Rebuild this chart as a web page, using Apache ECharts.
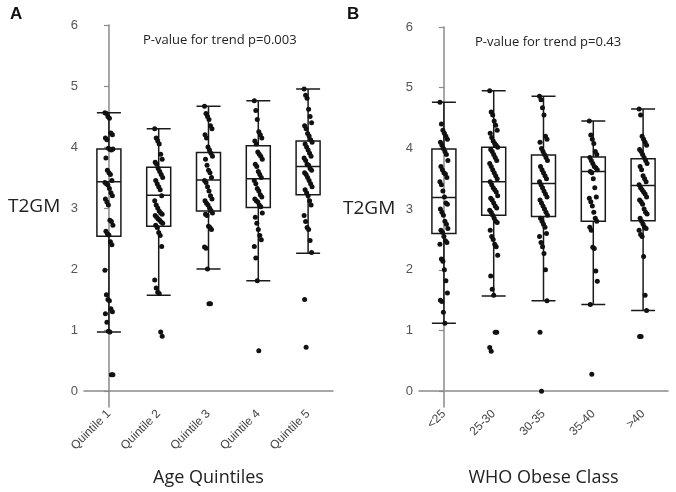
<!DOCTYPE html>
<html>
<head>
<meta charset="utf-8">
<title>T2GM</title>
<script src="https://cdn.jsdelivr.net/npm/echarts@6/dist/echarts.min.js"></script>
<style>
  html, body { margin: 0; padding: 0; background: #fff; }
  #main { width: 676px; height: 492px; }
</style>
</head>
<body>
<div id="main"></div>
<script type="text/javascript">
// categories
var ageCats = ['Quintile 1', 'Quintile 2', 'Quintile 3', 'Quintile 4', 'Quintile 5'];
var whoCats = ['<25', '25-30', '30-35', '35-40', '>40'];
var yTicks = [0, 1, 2, 3, 4, 5, 6];

// box stats [min, q1, median, q3, max]
var ageBoxes = [
  [0.97, 2.54, 3.43, 3.97, 4.56],
  [1.57, 2.70, 3.21, 3.67, 4.30],
  [2.00, 2.95, 3.46, 3.91, 4.67],
  [1.81, 3.01, 3.48, 4.02, 4.76],
  [2.26, 3.22, 3.68, 4.10, 4.95]
];
var whoBoxes = [
  [1.12, 2.60, 3.19, 3.99, 4.76],
  [1.57, 2.90, 3.45, 4.02, 4.95],
  [1.49, 2.88, 3.42, 3.89, 4.86],
  [1.43, 2.80, 3.62, 3.86, 4.45],
  [1.33, 2.81, 3.39, 3.83, 4.65]
];

// individual T2GM values per group
var age1 = [4.56, 4.55, 4.50, 4.47, 4.23, 4.20, 4.15, 4.12, 3.98, 3.96, 3.95, 3.97, 3.82, 3.62, 3.58, 3.55, 3.45, 3.42, 3.40, 3.38, 3.32, 3.25, 3.20, 3.15, 3.10, 3.05, 2.80, 2.78, 2.72, 2.62, 2.58, 2.56, 2.45, 2.40, 1.98, 1.58, 1.50, 1.48, 1.35, 1.30, 1.27, 1.13, 0.98, 0.97, 0.27, 0.27];
var age2 = [4.30, 4.15, 4.10, 4.05, 3.88, 3.80, 3.75, 3.72, 3.65, 3.60, 3.55, 3.50, 3.45, 3.40, 3.35, 3.30, 3.20, 3.12, 3.05, 3.00, 2.95, 2.92, 2.90, 2.88, 2.85, 2.82, 2.80, 2.77, 2.75, 2.72, 2.68, 2.60, 2.55, 2.37, 1.82, 1.69, 1.62, 1.60, 0.97, 0.90];
var age3 = [4.67, 4.55, 4.50, 4.45, 4.35, 4.30, 4.20, 4.15, 4.00, 3.95, 3.90, 3.85, 3.80, 3.70, 3.62, 3.58, 3.50, 3.45, 3.42, 3.35, 3.28, 3.20, 3.15, 3.12, 3.08, 3.05, 3.00, 2.96, 2.92, 2.90, 2.88, 2.70, 2.68, 2.65, 2.36, 2.34, 2.00, 1.43, 1.43];
var age4 = [4.76, 4.60, 4.45, 4.25, 4.20, 4.15, 4.10, 4.05, 3.92, 3.88, 3.85, 3.80, 3.72, 3.68, 3.60, 3.55, 3.50, 3.45, 3.40, 3.32, 3.28, 3.22, 3.18, 3.15, 3.12, 3.10, 3.05, 3.02, 2.92, 2.85, 2.75, 2.65, 2.55, 2.48, 2.37, 2.18, 1.81, 0.66];
var age5 = [4.95, 4.85, 4.80, 4.62, 4.50, 4.40, 4.35, 4.30, 4.22, 4.18, 4.12, 4.08, 4.05, 4.00, 3.95, 3.90, 3.85, 3.82, 3.78, 3.72, 3.70, 3.65, 3.62, 3.58, 3.55, 3.50, 3.45, 3.40, 3.35, 3.30, 3.25, 3.20, 3.12, 3.05, 2.88, 2.78, 2.68, 2.65, 2.47, 2.27, 1.50, 0.72];

var who1 = [4.76, 4.40, 4.30, 4.25, 4.20, 4.15, 4.10, 4.05, 4.00, 3.95, 3.90, 3.80, 3.70, 3.65, 3.60, 3.58, 3.52, 3.45, 3.40, 3.30, 3.20, 3.10, 3.08, 3.00, 2.95, 2.90, 2.80, 2.75, 2.68, 2.65, 2.62, 2.55, 2.48, 2.45, 2.42, 2.18, 2.14, 2.00, 1.82, 1.62, 1.50, 1.48, 1.30, 1.12];
var who2 = [4.95, 4.60, 4.55, 4.45, 4.38, 4.30, 4.25, 4.18, 4.12, 4.08, 4.05, 4.02, 3.98, 3.95, 3.90, 3.85, 3.80, 3.75, 3.70, 3.65, 3.60, 3.55, 3.50, 3.45, 3.40, 3.35, 3.32, 3.28, 3.22, 3.18, 3.15, 3.10, 3.05, 3.02, 2.98, 2.95, 2.90, 2.85, 2.80, 2.78, 2.65, 2.55, 2.50, 2.42, 2.38, 2.24, 1.90, 1.68, 1.58, 0.97, 0.97, 0.72, 0.66];
var who3 = [4.86, 4.80, 4.67, 4.55, 4.20, 4.15, 4.10, 4.00, 3.95, 3.90, 3.85, 3.80, 3.70, 3.65, 3.60, 3.55, 3.50, 3.45, 3.40, 3.35, 3.30, 3.25, 3.20, 3.15, 3.10, 3.05, 3.00, 2.95, 2.90, 2.85, 2.80, 2.75, 2.70, 2.60, 2.55, 2.45, 2.38, 2.27, 2.00, 1.49, 0.97, 0.00];
var who4 = [4.45, 4.22, 4.15, 4.08, 3.95, 3.90, 3.85, 3.80, 3.75, 3.70, 3.68, 3.65, 3.62, 3.60, 3.50, 3.35, 3.20, 3.18, 3.12, 3.05, 2.95, 2.85, 2.80, 2.70, 2.65, 2.37, 2.35, 1.98, 1.81, 1.43, 0.28];
var who5 = [4.65, 4.55, 4.20, 4.15, 4.10, 4.05, 3.98, 3.95, 3.90, 3.85, 3.80, 3.75, 3.70, 3.65, 3.55, 3.50, 3.45, 3.40, 3.35, 3.32, 3.28, 3.25, 3.20, 3.15, 3.12, 3.08, 3.00, 2.95, 2.92, 2.85, 2.80, 2.75, 2.70, 2.68, 2.65, 2.58, 2.55, 2.22, 1.58, 1.33, 0.90, 0.90];

var ageGroups = [age1, age2, age3, age4, age5];
var whoGroups = [who1, who2, who3, who4, who5];

// small fixed spread so the dots sit side by side like the original
function spread(i) {
  return (((i * 37) % 17) / 16 - 0.5) * 0.16;
}
function dots(groups) {
  var out = [];
  groups.forEach(function (g, c) {
    g.forEach(function (v, i) {
      out.push([c + spread(i), v]);
    });
  });
  return out;
}

var axisGray = '#8a8a8a';
var labelFont = 'Liberation Sans';
var textFont = 'Open Sans';

function yAxisFor(grid) {
  return {
    type: 'value', gridIndex: grid, min: -0.26, max: 6,
    axisLine: { show: true, lineStyle: { color: axisGray, width: 1.5 } },
    axisTick: { show: true, length: 5, lineStyle: { color: axisGray, width: 1.2 }, customValues: yTicks },
    axisLabel: { color: '#555', fontSize: 13, fontFamily: labelFont, margin: 6, customValues: yTicks },
    splitLine: { show: false }
  };
}
function catAxisFor(grid, cats, name) {
  return {
    type: 'category', gridIndex: grid, data: cats,
    axisLine: { show: true, lineStyle: { color: axisGray, width: 1.5 } },
    axisTick: { show: false },
    axisLabel: { rotate: 45, interval: 0, color: '#444', fontSize: 12, fontFamily: labelFont, margin: 5 },
    name: name, nameLocation: 'middle', nameGap: 62,
    nameTextStyle: { fontSize: 18, color: '#222', fontFamily: textFont }
  };
}
function dotAxisFor(grid) {
  return { type: 'value', gridIndex: grid, min: -0.5, max: 4.5, show: false };
}
function boxSeries(axisIdx, data) {
  return {
    type: 'boxplot', xAxisIndex: axisIdx, yAxisIndex: axisIdx === 0 ? 0 : 1,
    boxWidth: [24, 24], data: data, silent: true,
    itemStyle: { color: 'rgba(0,0,0,0)', borderColor: '#1a1a1a', borderWidth: 1.5 }
  };
}
function dotSeries(axisIdx, yIdx, groups) {
  return {
    type: 'scatter', xAxisIndex: axisIdx, yAxisIndex: yIdx,
    data: dots(groups), symbolSize: 5, silent: true, z: 5,
    itemStyle: { color: '#111', opacity: 1 }
  };
}

var myChart = echarts.init(document.getElementById('main'));
myChart.setOption({
  animation: false,
  grid: [
    { left: 84, right: 343, top: 25, bottom: 79 },
    { left: 419, right: 8, top: 27, bottom: 77 }
  ],
  xAxis: [
    catAxisFor(0, ageCats, 'Age Quintiles'),
    catAxisFor(1, whoCats, 'WHO Obese Class'),
    dotAxisFor(0),
    dotAxisFor(1)
  ],
  yAxis: [yAxisFor(0), yAxisFor(1)],
  series: [
    boxSeries(0, ageBoxes),
    boxSeries(1, whoBoxes),
    dotSeries(2, 0, ageGroups),
    dotSeries(3, 1, whoGroups)
  ],
  graphic: [
    { type: 'text', left: 10, top: 6, style: { text: 'A', font: 'bold 17px Liberation Sans', fill: '#111' } },
    { type: 'text', left: 347, top: 6, style: { text: 'B', font: 'bold 17px Liberation Sans', fill: '#111' } },
    { type: 'text', left: 8, top: 197, style: { text: 'T2GM', font: '19px Open Sans', fill: '#222' } },
    { type: 'text', left: 343, top: 199, style: { text: 'T2GM', font: '19px Open Sans', fill: '#222' } },
    { type: 'text', left: 143, top: 34, style: { text: 'P-value for trend p=0.003', font: '13px Open Sans', fill: '#222' } },
    { type: 'text', left: 475, top: 36, style: { text: 'P-value for trend p=0.43', font: '13px Open Sans', fill: '#222' } }
  ]
});
</script>
</body>
</html>
